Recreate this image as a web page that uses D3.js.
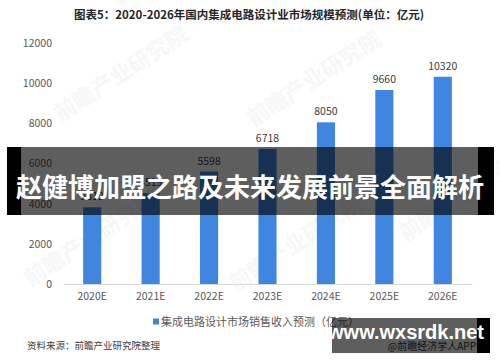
<!DOCTYPE html>
<html>
<head>
<meta charset="utf-8">
<script src="https://cdn.jsdelivr.net/npm/d3@7"></script>
<style>
  body { margin: 0; background: #fff; }
  svg { display: block; font-family: "Noto Sans CJK SC", "Noto Sans", sans-serif; }
</style>
</head>
<body>
<div id="chart"></div>
<script>
// chart data
var years = ["2020E", "2021E", "2022E", "2023E", "2024E", "2025E", "2026E"];
var sales = [3819, 4519, 5598, 6718, 8050, 9660, 10320];
var yTicks = [0, 2000, 4000, 6000, 8000, 10000, 12000];
var title = "图表5：2020-2026年国内集成电路设计业市场规模预测(单位：亿元)";
var legendName = "集成电路设计市场销售收入预测（亿元）";
var source = "资料来源：前瞻产业研究院整理";
var banner = "赵健博加盟之路及未来发展前景全面解析";

window.onload = function() {
    draw();
};

function draw() {
    var width = 500, height = 362;
    var plot = {left: 63, right: 472, top: 43, bottom: 284};

    var svg = d3.select("#chart").append("svg")
        .attr("width", width).attr("height", height);

    // faint watermarks
    var marks = [[125, 80], [318, 85], [95, 245], [300, 250], [470, 200]];
    svg.selectAll(".wm").data(marks).enter().append("text")
        .attr("class", "wm")
        .attr("transform", function(d) { return "translate(" + d[0] + "," + d[1] + ") rotate(-33)"; })
        .attr("text-anchor", "middle")
        .style("font-size", "22px")
        .style("font-weight", "bold")
        .style("fill", "#f6f7f8")
        .text("前瞻产业研究院");

    // title
    svg.append("text")
        .attr("x", 249).attr("y", 19)
        .attr("text-anchor", "middle")
        .style("font-size", "11.5px")
        .style("font-weight", "bold")
        .style("fill", "#262626")
        .text(title);

    var x = d3.scaleBand()
        .domain(years)
        .range([plot.left, plot.right])
        .paddingInner(0.69)
        .paddingOuter(0.345);

    var y = d3.scaleLinear()
        .domain([0, 12000])
        .range([plot.bottom, plot.top]);

    // y axis (labels only)
    var yaxis = d3.axisLeft(y).tickValues(yTicks).tickFormat(d3.format("d")).tickSize(0).tickPadding(0);
    var gy = svg.append("g")
        .attr("transform", "translate(52,0)")
        .call(yaxis);
    gy.select(".domain").remove();
    gy.selectAll("text")
        .style("font-size", "10.5px")
        .style("fill", "#595959")
        .style("font-family", "'Noto Sans CJK SC', sans-serif");

    // bars
    svg.selectAll(".bar").data(sales).enter().append("rect")
        .attr("class", "bar")
        .attr("x", function(d, i) { return x(years[i]); })
        .attr("y", function(d) { return y(d); })
        .attr("width", x.bandwidth())
        .attr("height", function(d) { return plot.bottom - y(d); })
        .style("fill", "#3f86e0");

    // value labels
    svg.selectAll(".val").data(sales).enter().append("text")
        .attr("class", "val")
        .attr("x", function(d, i) { return x(years[i]) + x.bandwidth() / 2; })
        .attr("y", function(d) { return y(d) - 7; })
        .attr("text-anchor", "middle")
        .style("font-size", "10.5px")
        .style("fill", "#404040")
        .text(function(d) { return d; });

    // x axis
    var xaxis = d3.axisBottom(x).tickSize(0).tickPadding(9);
    var gx = svg.append("g")
        .attr("transform", "translate(0," + plot.bottom + ")")
        .call(xaxis);
    gx.select(".domain").attr("stroke", "#d9d9d9");
    gx.selectAll("text")
        .style("font-size", "10.5px")
        .style("fill", "#595959")
        .style("font-family", "'Noto Sans CJK SC', sans-serif");

    // legend
    svg.append("rect")
        .attr("x", 153).attr("y", 318.5)
        .attr("width", 6).attr("height", 6)
        .style("fill", "#3f86e0");
    svg.append("text")
        .attr("x", 161).attr("y", 325.5)
        .style("font-size", "11px")
        .style("fill", "#595959")
        .text(legendName);

    // source
    svg.append("text")
        .attr("x", 27).attr("y", 349)
        .style("font-size", "9.5px")
        .style("fill", "#404040")
        .text(source);

    svg.append("text")
        .attr("x", 476).attr("y", 350)
        .attr("text-anchor", "end")
        .style("font-size", "10px")
        .style("fill", "#333")
        .text("@前瞻经济学人APP");

    // overlay banner
    svg.append("rect").attr("x", 7).attr("y", 147).attr("width", 14).attr("height", 68).style("fill", "#000");
    svg.append("rect").attr("x", 478).attr("y", 147).attr("width", 16).attr("height", 68).style("fill", "#000");
    svg.append("rect").attr("x", 21).attr("y", 147).attr("width", 457).attr("height", 68)
        .style("fill", "#000").style("opacity", 0.63);
    svg.append("text")
        .attr("x", 250).attr("y", 185)
        .attr("text-anchor", "middle")
        .attr("dominant-baseline", "central")
        .style("font-size", "26px")
        .style("font-weight", "bold")
        .style("fill", "#fff")
        .text(banner);

    // site watermark box
    svg.append("rect").attr("x", 477).attr("y", 318).attr("width", 13).attr("height", 35).style("fill", "#000");
    svg.append("rect").attr("x", 332).attr("y", 318).attr("width", 145).attr("height", 35)
        .style("fill", "#000").style("opacity", 0.63);
    svg.append("text")
        .attr("x", 406).attr("y", 339)
        .attr("text-anchor", "middle")
        .style("font-size", "20px")
        .style("font-weight", "bold")
        .style("font-family", "'Liberation Sans', Arial, sans-serif")
        .style("fill", "#fff")
        .text("www.wxsrdk.net");
}
</script>
</body>
</html>
